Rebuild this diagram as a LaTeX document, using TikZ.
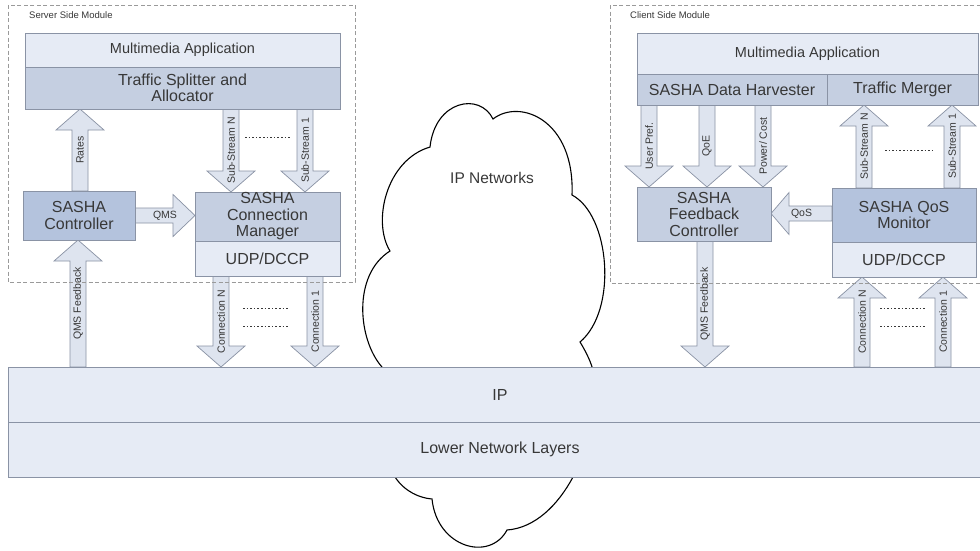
\documentclass[tikz,border=0pt]{standalone}
\usepackage{fontspec}
\setmainfont{Liberation Sans}
\usetikzlibrary{calc,backgrounds}
\definecolor{lightbox}{HTML}{E6EBF5}
\definecolor{midbox}{HTML}{C5CFE1}
\definecolor{darkbox}{HTML}{B4C3DD}
\definecolor{arrowfill}{HTML}{DEE4EF}
\definecolor{edgegray}{HTML}{8A93A5}
\definecolor{txt}{HTML}{383838}
\definecolor{dashgray}{HTML}{9A9A9A}
\tikzset{
  box/.style={draw=edgegray, line width=0.8pt, text=txt, align=center, inner sep=0pt, outer sep=0pt, font=\fontsize{16}{16.5}\selectfont},
  lightb/.style={box, fill=lightbox},
  midb/.style={box, fill=midbox},
  darkb/.style={box, fill=darkbox},
  barrow/.style={draw=edgegray, fill=arrowfill, line width=0.7pt, line join=miter},
  alabel/.style={text=txt, inner sep=0pt, font=\fontsize{10.5}{12}\selectfont},
  modlabel/.style={text=txt, inner sep=0pt, anchor=west, font=\fontsize{9.5}{11}\selectfont},
  modbox/.style={draw=dashgray, line width=0.8pt, dash pattern=on 4pt off 2.5pt},
  dotline/.style={draw=txt, line width=1pt, dash pattern=on 1.6pt off 2pt},
  cloudline/.style={draw=black, line width=1.1pt}
}
\newcommand\varrow[5]{%
  \coordinate (vx) at (#1,0);
  \coordinate (vt) at (vx |- #2);
  \coordinate (vh) at (vx |- #3);
  \draw[barrow] ($(vt)+(-8,0)$) -- ($(vh)+(-8,#4)$) -- ($(vh)+(-24,#4)$) -- (vh) -- ($(vh)+(24,#4)$) -- ($(vh)+(8,#4)$) -- ($(vt)+(8,0)$) -- cycle;
  \node[alabel, rotate=90] (vl) at ($(vt)!0.5!(vh)$) {#5};
}
\newcommand\harrow[5]{%
  \coordinate (hy) at (0,#1);
  \coordinate (ht) at (#2 |- hy);
  \coordinate (hh) at (#3 |- hy);
  \draw[barrow] ($(ht)+(0,-7.5)$) -- ($(hh)+(#4,-7.5)$) -- ($(hh)+(#4,-21)$) -- (hh) -- ($(hh)+(#4,21)$) -- ($(hh)+(#4,7.5)$) -- ($(ht)+(0,7.5)$) -- cycle;
  \node[alabel] (hl) at ($(ht)!0.5!(hh)$) {#5};
}
\begin{document}
\begin{tikzpicture}[x=1pt, y=-1pt]
\useasboundingbox (0,0) rectangle (980,550);
\clip (0,0) rectangle (980,550);

% module frames
\draw[modbox] (8,5) rectangle (355,282);
\node[modlabel] (slab) at (29,15) {Server Side Module};
\draw[modbox] (610,5) rectangle (995,283);
\node[modlabel] (clab) at (630,15) {Client Side Module};

% server boxes
\node[lightb, minimum width=315pt, minimum height=34pt, font=\fontsize{14.5}{16}\selectfont] (smm) at (182.5,50) {Multimedia Application};
\node[midb, minimum width=315pt, minimum height=42pt] (split) at (182.5,88) {Traffic Splitter and\\Allocator};
\node[darkb, minimum width=112pt, minimum height=49pt] (sctrl) at (79,215.5) {SASHA\\Controller};
\node[midb, minimum width=145pt, minimum height=49pt] (cm) at (267.5,216.5) {SASHA\\Connection\\Manager};
\node[lightb, minimum width=145pt, minimum height=35pt] (sudp) at (267.5,258.5) {UDP/DCCP};

% client boxes
\node[lightb, minimum width=341pt, minimum height=41pt, font=\fontsize{14.5}{16}\selectfont] (cmm) at (807.5,53.5) {Multimedia Application};
\node[midb, minimum width=190pt, minimum height=31pt] (harv) at (732,89.5) {SASHA Data Harvester};
\node[midb, minimum width=151pt, minimum height=31pt] (merg) at (902.5,89.5) {Traffic Merger};
\node[midb, minimum width=134pt, minimum height=54pt] (fbc) at (704,214) {SASHA\\Feedback\\Controller};
\node[darkb, minimum width=144pt, minimum height=54pt] (qosm) at (904,215) {SASHA QoS\\Monitor};
\node[lightb, minimum width=144pt, minimum height=35pt] (cudp) at (904,259.5) {UDP/DCCP};

% network layers
\node[lightb, minimum width=984pt, minimum height=55pt] (ip) at (500,394.5) {IP};
\node[lightb, minimum width=984pt, minimum height=55pt] (low) at (500,449.5) {Lower Network Layers};

\begin{pgfonlayer}{background}
\fill[white] (0,0) rectangle (980,550);
% cloud
\draw[cloudline] (382,367) .. controls (358,340) and (352,275) .. (390,251)
  .. controls (372,222) and (386,160) .. (430,147)
  .. controls (435,100) and (480,92) .. (493,119)
  .. controls (520,98) and (575,120) .. (572,195)
  .. controls (610,215) and (618,310) .. (580,342)
  .. controls (585,350) and (590,360) .. (592,367);
\draw[cloudline] (395,477) .. controls (405,492) and (420,498) .. (432,499)
  .. controls (437,548) and (490,562) .. (507,530)
  .. controls (535,528) and (558,505) .. (573,477);
\node[text=txt, inner sep=0pt, font=\fontsize{15.5}{17}\selectfont] (ipn) at (492,178) {IP Networks};

% server arrows
\varrow{80}{sctrl.north}{split.south}{21}{Rates}
\varrow{231}{split.south}{cm.north}{-21}{Sub-Stream N}
\varrow{305}{split.south}{cm.north}{-21}{Sub-Stream 1}
\varrow{78}{ip.north}{sctrl.south}{21}{QMS Feedback}
\varrow{221}{sudp.south}{ip.north}{-21}{Connection N}
\varrow{315}{sudp.south}{ip.north}{-21}{Connection 1}
\harrow{215.5}{sctrl.east}{cm.west}{-22}{QMS}

% client arrows
\varrow{649}{harv.south}{fbc.north}{-21}{User Pref.}
\varrow{707}{harv.south}{fbc.north}{-21}{QoE}
\varrow{763}{harv.south}{fbc.north}{-21}{Power/ Cost}
\varrow{864}{qosm.north}{merg.south}{21}{Sub-Stream N}
\varrow{952}{qosm.north}{merg.south}{21}{Sub-Stream 1}
\varrow{705}{fbc.south}{ip.north}{-21}{QMS Feedback}
\varrow{862}{ip.north}{cudp.south}{21}{Connection N}
\varrow{943}{ip.north}{cudp.south}{21}{Connection 1}
\harrow{213.5}{qosm.west}{fbc.east}{18}{QoS}
\end{pgfonlayer}

% dotted separators
\draw[dotline] (245,137) -- (290,137);
\draw[dotline] (243,308) -- (288,308);
\draw[dotline] (243,326) -- (288,326);
\draw[dotline] (885,150) -- (932,150);
\draw[dotline] (880,308) -- (925,308);
\draw[dotline] (880,326) -- (925,326);
\end{tikzpicture}
\end{document}
